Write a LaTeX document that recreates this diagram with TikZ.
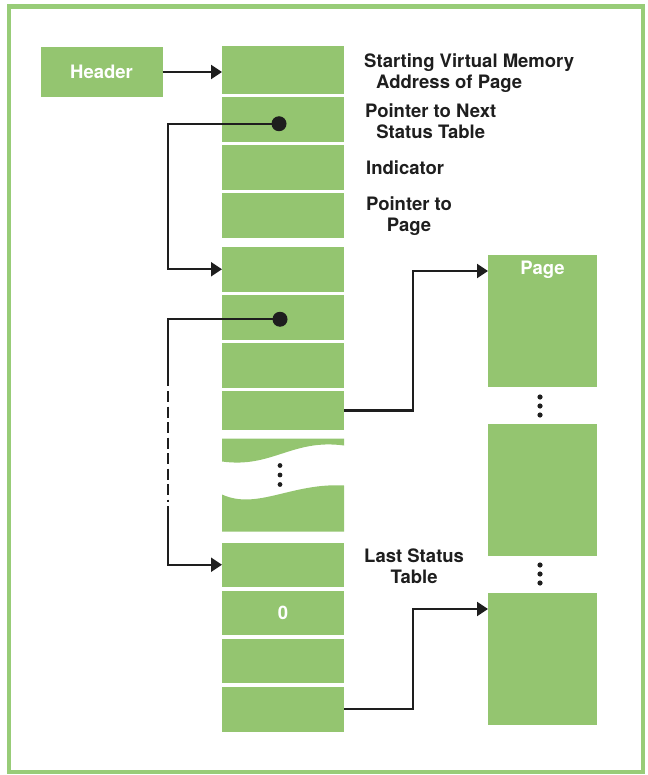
\documentclass[tikz,border=0pt]{standalone}
\usepackage{fontspec}
\setmainfont{TeX Gyre Heros}
\usetikzlibrary{positioning, arrows.meta}
\definecolor{memgreen}{RGB}{148,197,112}
\definecolor{framegreen}{RGB}{152,204,120}
\definecolor{inkgray}{RGB}{30,30,30}

\begin{document}
\begin{tikzpicture}[
x=1pt, y=-1pt,
node distance=3.5pt,
block/.style={
	rectangle,
	fill=memgreen,
	inner sep=0pt,
	outer sep=0pt,
	minimum width=122pt,
	minimum height=44.5pt,
	text=white,
	font=\bfseries\fontsize{18.5}{21}\selectfont
},
pagebox/.style={block, minimum width=109pt, minimum height=132pt},
gapbox/.style={block, fill=none, minimum height=93pt},
note/.style={
	anchor=north west,
	inner sep=0pt,
	align=center,
	text=inkgray,
	font=\bfseries\fontsize{18.5}{21}\selectfont
},
wire/.style={draw=inkgray, line width=2.2pt},
line/.style={wire, -{Triangle[length=11pt,width=14pt]}},
dot/.style={circle, fill=inkgray, inner sep=0pt, minimum size=15pt}
]

\useasboundingbox (0,0) rectangle (647,775);
\draw[framegreen, line width=4.5pt] (9,6.5) rectangle (643,772);

% Nodes
\node[block, minimum height=50pt] (header) at (101.5,72) {Header};
\node[block, minimum height=48pt] (st1) at (283,70) {};
\node[block, below=of st1] (st2) {};
\node[block, below=of st2] (st3) {};
\node[block, below=of st3] (st4) {};
\node[block, below=9pt of st4] (st5) {};
\node[block, below=of st5] (st6) {};
\node[block, below=of st6] (st7) {};
\node[block, below=of st7, minimum height=39pt] (st8) {};
\node[gapbox, below=8.5pt of st8] (brk) {};
\node[block, below=11pt of brk] (st9) {};
\node[block, below=of st9] (st10) {0};
\node[block, below=of st10] (st11) {};
\node[block, below=of st11, minimum height=45pt] (st12) {};

\node[pagebox] (page1) at (542.5,321) {};
\node[pagebox, below=37pt of page1] (page2) {};
\node[pagebox, below=37pt of page2] (page3) {};
\node[note, anchor=north, text=white] (pagename) at ([yshift=-6pt]page1.north) {Page};

% broken part of the table
\begin{scope}[shift={(brk.north west)}]
\fill[memgreen] (0,0) -- (122,0) -- (122,7) .. controls (70,0) and (50,30) .. (0,23) -- cycle;
\fill[memgreen] (0,56) .. controls (35,72) and (70,44) .. (122,47) -- (122,93) -- (0,93) -- cycle;
\foreach \dy in {27,36.5,46}
	\fill[inkgray] (58,\dy) circle (2.4pt);
\end{scope}

\foreach \dy in {397,406,415,565,574,583}
	\fill[inkgray] (540,\dy) circle (2.6pt);

% Texts
\node[note, align=left] (addr) at (364,54) {Starting Virtual Memory\\\hspace*{12pt}Address of Page};
\node[note] (nextptr) at (365,104) {Pointer to Next\\Status Table};
\node[note] (indic) at (366,161) {Indicator};
\node[note] (pageptr) at (366,197) {Pointer to\\Page};
\node[note] (last) at (364,549) {Last Status\\Table};

% Lines
\coordinate (dashtop) at (168,386);
\coordinate (dashbot) at (168,506);
\draw[line] (header.east) -- (header.east -| st1.west);
\draw[line] (st2.center) ++(-4,4) coordinate (p1) -- ++(-111,0) |- (st5.west);
\draw[wire] (st6.center) ++(-3,2) coordinate (p2) -- (p2 -| dashtop) -- (dashtop);
\draw[wire, dash pattern=on 11pt off 4.5pt] ([yshift=-5pt]dashtop) -- ([yshift=4pt]dashbot);
\draw[line] (dashbot) |- (st9.west);
\draw[line] (st8.east) -- ++(69,0) |- ([yshift=-16pt]page1.north west);
\draw[line] (st12.east) -- ++(69,0) |- ([yshift=-16pt]page3.north west);

\node[dot] (ptr1) at (p1) {};
\node[dot] (ptr2) at (p2) {};

\end{tikzpicture}
\end{document}
